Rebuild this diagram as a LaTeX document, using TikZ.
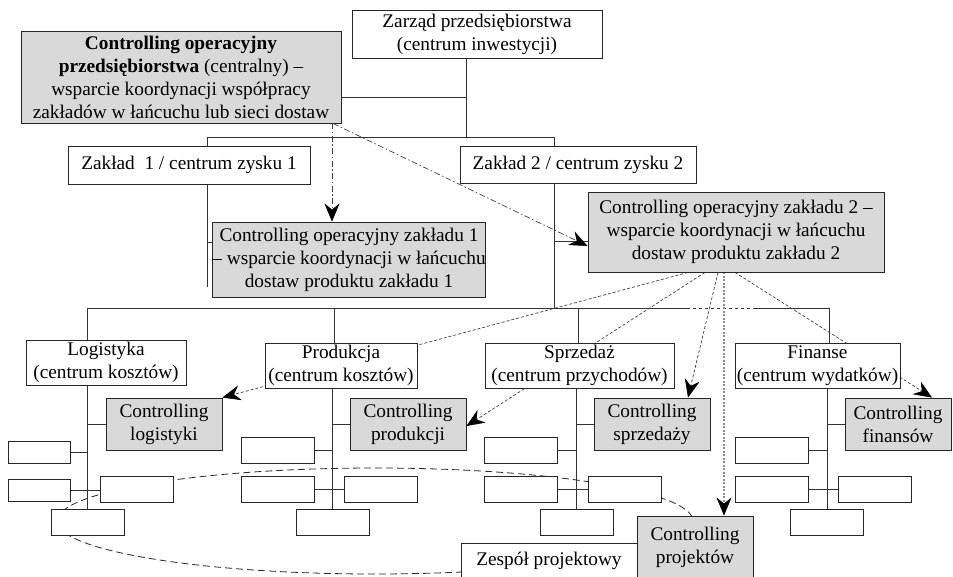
\documentclass[tikz,border=0pt]{standalone}
\usepackage{fontspec}
\setmainfont{Liberation Serif}
\usetikzlibrary{arrows.meta,backgrounds}

\tikzset{
  box/.style={draw=black!85, line width=0.9pt, fill=white, inner sep=0pt,
    align=center, font=\fontsize{19.3}{23}\selectfont},
  ctrl/.style={box, fill=black!15},
  cell/.style={draw=black!85, line width=0.9pt, fill=white, inner sep=0pt,
    minimum width=73pt, minimum height=26pt},
  smallcell/.style={cell, minimum width=62pt, minimum height=22pt},
  tree/.style={draw=black!80, line width=0.9pt},
  tip/.style={-{Stealth[length=18pt,width=15pt,inset=6pt,black,line width=0.5pt]}},
  dashdotarrow/.style={tip, draw=black!75, line width=0.7pt,
    dash pattern=on 6pt off 2.5pt on 1.5pt off 2.5pt},
  dasharrow/.style={tip, draw=black!75, line width=0.7pt,
    dash pattern=on 3pt off 2pt},
  dotarrow/.style={tip, draw=black!45, line width=1.3pt,
    dash pattern=on 2pt off 1.5pt},
  team/.style={draw=black!85, line width=0.8pt, dash pattern=on 7pt off 4pt}
}

\begin{document}
\begin{tikzpicture}[x=1pt,y=-1pt]
\useasboundingbox (0,0) rectangle (953,576);

% ---- upper levels ----
\node[box, minimum width=250pt, minimum height=48pt] (zarzad) at (477,34)
  {Zarząd przedsiębiorstwa\\(centrum inwestycji)};
\node[ctrl, minimum width=320pt, minimum height=92pt] (cop) at (181,77)
  {\textbf{Controlling operacyjny}\\\textbf{przedsiębiorstwa} (centralny) –\\wsparcie koordynacji współpracy\\zakładów w łańcuchu lub sieci dostaw};
\node[box, minimum width=242pt, minimum height=38pt] (zak1) at (189,165)
  {Zakład\ \ 1 / centrum zysku 1};
\node[box, minimum width=236pt, minimum height=37pt] (zak2) at (578,164.5)
  {Zakład 2 / centrum zysku 2};
\node[ctrl, minimum width=236pt, minimum height=75pt] (cz1) at (349,259.5)
  {Controlling operacyjny zakładu 1\\– wsparcie koordynacji w łańcuchu\\dostaw produktu zakładu 1};
\node[ctrl, minimum width=296pt, minimum height=80pt] (cz2) at (736,232)
  {Controlling operacyjny zakładu 2 –\\wsparcie koordynacji w łańcuchu\\dostaw produktu zakładu 2};

% ---- departments ----
\node[box, minimum width=160pt, minimum height=45pt] (log) at (106,362.5)
  {Logistyka\\(centrum kosztów)};
\node[box, minimum width=152pt, minimum height=45pt] (prod) at (341,365.5)
  {Produkcja\\(centrum kosztów)};
\node[box, minimum width=189pt, minimum height=45pt] (sprz) at (579.5,365.5)
  {Sprzedaż\\(centrum przychodów)};
\node[box, minimum width=165pt, minimum height=45pt] (fin) at (817.5,365.5)
  {Finanse\\(centrum wydatków)};

% ---- department controlling ----
\node[ctrl, minimum width=116pt, minimum height=52pt] (clog) at (164,424)
  {Controlling\\logistyki};
\node[ctrl, minimum width=116pt, minimum height=52pt] (cprod) at (408,424)
  {Controlling\\produkcji};
\node[ctrl, minimum width=116pt, minimum height=52pt] (csprz) at (652,424)
  {Controlling\\sprzedaży};
\node[ctrl, minimum width=106pt, minimum height=52pt] (cfin) at (898,424)
  {Controlling\\finansów};

% ---- units of each department ----
\node[smallcell] (la) at (39,452.5) {};
\node[smallcell] (lb) at (39,490.5) {};
\node[cell] (lc) at (136.5,489.5) {};
\node[cell] (ld) at (87.5,522) {};

\node[cell] (pa) at (277.5,450) {};
\node[cell] (pb) at (277.5,489.5) {};
\node[cell] (pc) at (380.5,489.5) {};
\node[cell] (pd) at (332.5,522) {};

\node[cell] (sa) at (521,450) {};
\node[cell] (sb) at (521,489.5) {};
\node[cell] (sc) at (625,489.5) {};
\node[cell] (sd) at (576.5,522) {};

\node[cell] (fa) at (771.5,450) {};
\node[cell] (fb) at (771.5,489.5) {};
\node[cell] (fc) at (875,489.5) {};
\node[cell] (fd) at (826.5,522) {};

% ---- project team ----
\node[box, minimum width=176pt, minimum height=35pt] (team) at (549,560.5)
  {Zespół projektowy};
\node[ctrl, minimum width=116pt, minimum height=62pt] (cproj) at (695,547)
  {Controlling\\projektów};

% ---- junction points of the tree ----
\coordinate (jz)  at (466,137);
\coordinate (jc)  at (466,97);
\coordinate (jl)  at (207,137);
\coordinate (jr)  at (554,137);
\coordinate (j1)  at (207,287);
\coordinate (j1c) at (207,242);
\coordinate (j2c) at (554,241);
\coordinate (j3)  at (554,308);
\coordinate (hl)  at (87,308);
\coordinate (hp)  at (334,308);
\coordinate (hs)  at (578,308);
\coordinate (hf)  at (829,308);
\coordinate (da)  at (687,308);
\coordinate (db)  at (753,308);
\coordinate (tl)  at (87,0);
\coordinate (tp)  at (332,0);
\coordinate (ts)  at (576,0);
\coordinate (tf)  at (827,0);

\begin{scope}[on background layer]
  % project team outline
  \draw[team] (375,521) ellipse [x radius=318, y radius=53];

  % management tree
  \draw[tree] (zarzad.south -| jz) -- (jz);
  \draw[tree] (cop.east |- jc) -- (jc);
  \draw[tree] (zak1.north -| jl) -- (jl) -- (jr) -- (j3);
  \draw[tree] (zak1.south -| j1) -- (j1);
  \draw[tree] (j1c) -- (cz1.west |- j1c);
  \draw[tree] (j2c) -- (cz2.west |- j2c);

  % department bar
  \draw[tree] (hl) -- (da);
  \draw[tree, dashed] (da) -- (db);
  \draw[tree] (db) -- (hf);
  \draw[tree] (hl) -- (log.north -| hl);
  \draw[tree] (hp) -- (prod.north -| hp);
  \draw[tree] (hs) -- (sprz.north -| hs);
  \draw[tree] (hf) -- (fin.north -| hf);

  % logistics
  \draw[tree] (log.south -| tl) -- (ld.north -| tl);
  \draw[tree] (clog.west -| tl) -- (clog.west);
  \draw[tree] (la.east) -- (la.east -| tl);
  \draw[tree] (lb.east) -- (lc.west |- lb.east);
  % production
  \draw[tree] (prod.south -| tp) -- (pd.north -| tp);
  \draw[tree] (cprod.west -| tp) -- (cprod.west);
  \draw[tree] (pa.east) -- (pa.east -| tp);
  \draw[tree] (pb.east) -- (pc.west);
  % sales
  \draw[tree] (sprz.south -| ts) -- (sd.north -| ts);
  \draw[tree] (csprz.west -| ts) -- (csprz.west);
  \draw[tree] (sa.east) -- (sa.east -| ts);
  \draw[tree] (sb.east) -- (sc.west);
  % finance
  \draw[tree] (fin.south -| tf) -- (fd.north -| tf);
  \draw[tree] (cfin.west -| tf) -- (cfin.west);
  \draw[tree] (fa.east) -- (fa.east -| tf);
  \draw[tree] (fb.east) -- (fc.west);

  % coordination from central controlling
  \draw[dashdotarrow] ([xshift=151pt]cop.south) -- ([xshift=-17pt]cz1.north);
  \draw[dashdotarrow] ([xshift=152pt]cop.south) -- ([yshift=-14pt]cz2.west);

  % coordination from plant 2 controlling
  \draw[dasharrow] ([xshift=-48pt]cz2.south) -- (clog.north east);
  \draw[dasharrow] ([xshift=-31pt]cz2.south) -- ([yshift=-2pt]cprod.east);
  \draw[dasharrow] ([xshift=-18pt]cz2.south) -- ([xshift=36pt]csprz.north);
  \draw[dotarrow]  ([xshift=-12pt]cz2.south) -- ([xshift=29pt]cproj.north);
  \draw[dasharrow] ([xshift=-1pt]cz2.south) -- ([xshift=34pt]cfin.north);
\end{scope}
\end{tikzpicture}
\end{document}
